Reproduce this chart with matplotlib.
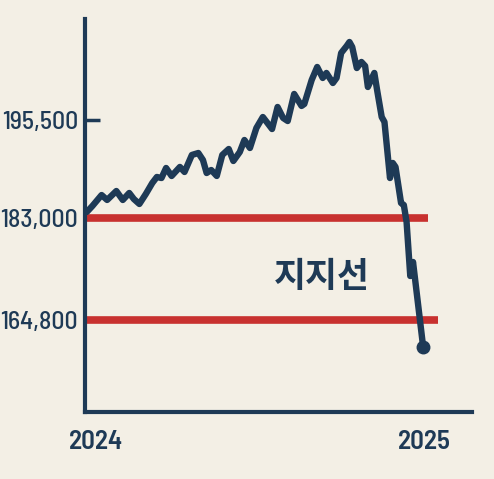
import numpy as np
import pandas as pd
import matplotlib
matplotlib.use("Agg")
import matplotlib.pyplot as plt
import matplotlib.transforms as mtransforms

# ---- data ----
dates = [
    "2024-01-01", "2024-01-07", "2024-01-17", "2024-01-23", "2024-02-02", "2024-02-09",
    "2024-02-16", "2024-02-21", "2024-02-27", "2024-03-05", "2024-03-12", "2024-03-17",
    "2024-03-22", "2024-03-27", "2024-04-02", "2024-04-11", "2024-04-16", "2024-04-24",
    "2024-05-01", "2024-05-06", "2024-05-10", "2024-05-15", "2024-05-21", "2024-05-27",
    "2024-06-03", "2024-06-08", "2024-06-15", "2024-06-20", "2024-06-26", "2024-07-03",
    "2024-07-10", "2024-07-15", "2024-07-20", "2024-07-26", "2024-08-01", "2024-08-06",
    "2024-08-13", "2024-08-21", "2024-08-24", "2024-09-01", "2024-09-07", "2024-09-13",
    "2024-09-17", "2024-09-24", "2024-09-28", "2024-10-03", "2024-10-09", "2024-10-12",
    "2024-10-15", "2024-10-20", "2024-10-25", "2024-10-29", "2024-11-01", "2024-11-08",
    "2024-11-11", "2024-11-16", "2024-11-19", "2024-11-25", "2024-11-28", "2024-12-01",
    "2024-12-07", "2024-12-10", "2024-12-13", "2024-12-17", "2024-12-20", "2024-12-31",
]
prices = [
    183770, 184530, 185930, 185300, 186440, 185300,
    186190, 185420, 184790, 186060, 187460, 188230,
    188100, 189380, 188360, 189510, 188870, 191040,
    191290, 190400, 188740, 189120, 188360, 191040,
    191800, 190270, 191420, 192950, 191930, 194480,
    195880, 195120, 194350, 197160, 195760, 195370,
    198820, 197290, 197540, 200600, 202260, 200860,
    201500, 200220, 200860, 204050, 204940, 205450,
    204810, 202130, 202900, 202390, 199710, 201500,
    199330, 195880, 195250, 188100, 190020, 189510,
    184910, 184660, 182290, 172650, 175150, 159980,
]
support_levels = [183000, 164800]
support_ends = ["2025-01-05", "2025-01-16"]
ytick_values = [164800, 183000, 195500]
ytick_labels = ["164,800", "183,000", "195,500"]
xtick_dates = ["2024-01-01", "2025-01-01"]
xtick_labels = ["2024", "2025"]
annotation_text = "지지선"

# ---- style ----
BG = "#f3efe5"
NAVY = "#1e3a56"
RED = "#c8312f"
NUMFONT = ["Barlow Semi Condensed", "DejaVu Sans"]

x = pd.to_datetime(dates)
y = np.array(prices)

fig = plt.figure(figsize=(4.94, 4.79), dpi=100, facecolor=BG)
ax = fig.add_axes([85 / 494, 1 - 412 / 479, (472 - 85) / 494, (412 - 19) / 479])
ax.set_facecolor(BG)

# piecewise-linear y scale (as in the reference's axis)
knots_v = np.array([0.0, 183000.0, 1.0e6])
knots_p = np.array([-183000.0 / 178.43, 0.0, (1.0e6 - 183000.0) / 127.55])

def fwd(v):
    return np.interp(v, knots_v, knots_p)

def inv(p):
    return np.interp(p, knots_p, knots_v)

ax.set_yscale("function", functions=(fwd, inv))
ax.set_ylim(148384, 208382)
left = pd.Timestamp("2023-12-30")
ax.set_xlim(left, pd.Timestamp("2025-02-22"))

for lvl, end in zip(support_levels, support_ends):
    ax.plot([left, pd.Timestamp(end)], [lvl, lvl], color=RED, lw=5.5,
            solid_capstyle="butt", zorder=2)

ax.plot(x, y, color=NAVY, lw=4.6, solid_joinstyle="round", solid_capstyle="round", zorder=3)
ax.plot(x[-1:], y[-1:], "o", color=NAVY, ms=9, zorder=4)

ax.text(0.612, 0.346, annotation_text, transform=ax.transAxes, ha="center", va="center",
        fontsize=25, fontweight="bold", color=NAVY,
        family=["Noto Sans CJK KR", "DejaVu Sans"])

for s in ["top", "right"]:
    ax.spines[s].set_visible(False)
for s in ["left", "bottom"]:
    ax.spines[s].set_color(NAVY)
    ax.spines[s].set_linewidth(3)

ax.set_yticks(ytick_values)
ax.set_yticklabels(ytick_labels)
ax.yaxis.set_minor_locator(matplotlib.ticker.NullLocator())
ax.tick_params(axis="y", direction="in", length=11, width=2.5, color=NAVY, pad=5,
               labelsize=18.5, labelcolor=NAVY)
for lab in ax.get_yticklabels():
    lab.set_family(NUMFONT)
    lab.set_fontweight("medium")

ax.set_xticks(pd.to_datetime(xtick_dates))
ax.set_xticklabels(xtick_labels)
ax.xaxis.set_minor_locator(matplotlib.ticker.NullLocator())
ax.tick_params(axis="x", length=0, pad=13, labelsize=19.5, labelcolor=NAVY)
for i, lab in enumerate(ax.get_xticklabels()):
    lab.set_family(NUMFONT)
    lab.set_fontweight("semibold")
    if i == 0:
        lab.set_transform(lab.get_transform() +
                          mtransforms.ScaledTranslation(9 / 100, 0, fig.dpi_scale_trans))

fig.savefig("out.png", dpi=100, facecolor=BG)
